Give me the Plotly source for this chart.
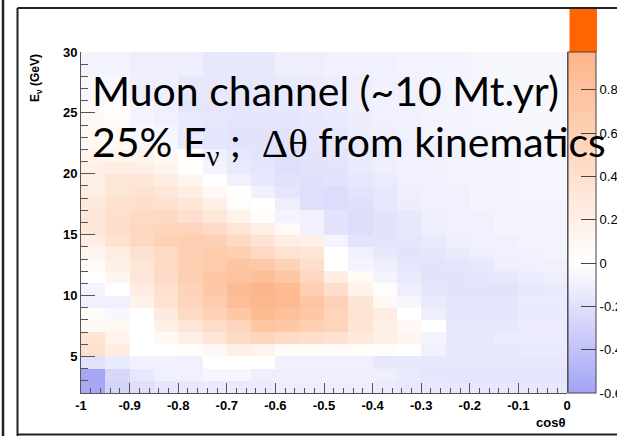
import plotly.graph_objects as go

# Binning: 20 bins in cos(theta) over [-1, 0], 28 bins of 1 GeV in E_nu over [2, 30]
cos_edges = [round(-1 + 0.05 * k, 2) for k in range(21)]
energy_edges = list(range(2, 31))

# Bin contents, one row per energy bin (bottom row = 2-3 GeV), 20 cos(theta) bins each
chi2_diff = [
    [-0.57, -0.28, -0.21, -0.17, -0.15, -0.14, -0.14, -0.13, -0.12, -0.12, -0.12, -0.12, -0.13, -0.15, -0.15, -0.16, -0.16, -0.16, -0.16, -0.16],
    [-0.58, -0.26, -0.15, -0.10, -0.10, -0.06, -0.06, -0.11, -0.11, -0.11, -0.11, -0.11, -0.11, -0.14, -0.17, -0.17, -0.17, -0.17, -0.17, -0.17],
    [-0.19, -0.14, -0.09, -0.09, -0.09, 0.00, 0.00, 0.00, -0.09, -0.09, -0.09, -0.09, -0.15, -0.15, -0.15, -0.15, -0.15, -0.15, -0.15, -0.15],
    [0.40, 0.24, 0.00, 0.00, 0.04, 0.08, 0.20, 0.15, 0.05, 0.05, 0.05, 0.04, 0.03, 0.00, -0.09, -0.15, -0.15, -0.15, -0.14, -0.14],
    [0.36, 0.16, 0.00, 0.08, 0.20, 0.34, 0.47, 0.55, 0.47, 0.43, 0.39, 0.28, 0.20, 0.12, -0.07, -0.15, -0.15, -0.13, -0.13, -0.13],
    [0.08, 0.08, 0.00, 0.20, 0.33, 0.45, 0.55, 0.76, 0.73, 0.63, 0.55, 0.35, 0.20, 0.09, 0.00, -0.15, -0.15, -0.15, -0.13, -0.13],
    [0.05, -0.05, 0.00, 0.27, 0.47, 0.60, 0.73, 0.89, 0.81, 0.73, 0.55, 0.37, 0.23, 0.00, -0.11, -0.17, -0.17, -0.17, -0.14, -0.14],
    [-0.09, -0.10, 0.17, 0.37, 0.55, 0.68, 0.85, 0.93, 0.91, 0.76, 0.60, 0.35, 0.09, -0.05, -0.14, -0.17, -0.17, -0.17, -0.13, -0.13],
    [-0.07, 0.00, 0.23, 0.39, 0.57, 0.71, 0.88, 0.95, 0.88, 0.63, 0.41, 0.17, 0.03, -0.11, -0.17, -0.18, -0.18, -0.18, -0.15, -0.14],
    [0.00, 0.12, 0.31, 0.47, 0.63, 0.72, 0.79, 0.84, 0.73, 0.52, 0.24, 0.07, -0.07, -0.14, -0.18, -0.18, -0.17, -0.15, -0.13, -0.11],
    [0.07, 0.20, 0.33, 0.49, 0.63, 0.68, 0.76, 0.73, 0.60, 0.41, 0.00, -0.07, -0.11, -0.17, -0.18, -0.17, -0.15, -0.11, -0.10, -0.09],
    [0.13, 0.24, 0.39, 0.49, 0.63, 0.68, 0.63, 0.49, 0.36, 0.33, 0.00, -0.09, -0.15, -0.18, -0.17, -0.14, -0.11, -0.10, -0.09, -0.07],
    [0.23, 0.37, 0.51, 0.60, 0.64, 0.61, 0.49, 0.36, 0.23, 0.20, -0.07, -0.18, -0.18, -0.17, -0.14, -0.11, -0.10, -0.09, -0.07, -0.07],
    [0.31, 0.41, 0.52, 0.56, 0.55, 0.47, 0.33, 0.20, 0.07, -0.10, -0.18, -0.22, -0.18, -0.15, -0.11, -0.10, -0.09, -0.07, -0.07, -0.07],
    [0.31, 0.41, 0.47, 0.49, 0.41, 0.31, 0.17, 0.03, -0.07, -0.10, -0.18, -0.22, -0.18, -0.15, -0.11, -0.10, -0.09, -0.07, -0.07, -0.07],
    [0.28, 0.39, 0.41, 0.39, 0.31, 0.20, 0.03, 0.00, -0.11, -0.21, -0.23, -0.20, -0.16, -0.12, -0.10, -0.09, -0.07, -0.07, -0.07, -0.07],
    [0.23, 0.33, 0.36, 0.31, 0.22, 0.09, 0.00, -0.09, -0.17, -0.21, -0.23, -0.18, -0.15, -0.11, -0.10, -0.09, -0.07, -0.07, -0.06, -0.06],
    [0.20, 0.31, 0.31, 0.23, 0.13, 0.00, -0.10, -0.15, -0.19, -0.20, -0.19, -0.16, -0.13, -0.10, -0.09, -0.08, -0.07, -0.07, -0.06, -0.06],
    [0.20, 0.24, 0.20, 0.13, 0.00, -0.07, -0.14, -0.17, -0.21, -0.19, -0.18, -0.14, -0.11, -0.10, -0.09, -0.08, -0.07, -0.07, -0.06, -0.06],
    [0.16, 0.13, 0.13, 0.09, 0.00, -0.09, -0.15, -0.18, -0.20, -0.18, -0.17, -0.14, -0.11, -0.10, -0.09, -0.08, -0.07, -0.06, -0.06, -0.05],
    [0.09, 0.07, -0.05, -0.05, -0.14, -0.17, -0.18, -0.18, -0.19, -0.17, -0.15, -0.13, -0.11, -0.10, -0.09, -0.08, -0.07, -0.06, -0.06, -0.05],
    [0.09, 0.07, -0.05, -0.07, -0.14, -0.17, -0.18, -0.18, -0.18, -0.16, -0.15, -0.12, -0.11, -0.09, -0.08, -0.07, -0.07, -0.06, -0.05, -0.05],
    [0.09, 0.03, -0.07, -0.10, -0.14, -0.15, -0.17, -0.17, -0.17, -0.15, -0.14, -0.12, -0.10, -0.09, -0.08, -0.07, -0.06, -0.06, -0.05, -0.05],
    [0.07, 0.00, -0.07, -0.11, -0.17, -0.17, -0.17, -0.16, -0.15, -0.14, -0.13, -0.11, -0.10, -0.09, -0.08, -0.07, -0.06, -0.05, -0.05, -0.05],
    [-0.05, -0.05, -0.11, -0.11, -0.15, -0.15, -0.15, -0.15, -0.14, -0.13, -0.12, -0.11, -0.10, -0.09, -0.08, -0.07, -0.06, -0.05, -0.05, -0.05],
    [-0.05, -0.05, -0.11, -0.11, -0.15, -0.15, -0.15, -0.15, -0.14, -0.13, -0.12, -0.11, -0.10, -0.09, -0.08, -0.07, -0.06, -0.05, -0.05, -0.05],
    [-0.07, -0.07, -0.11, -0.11, -0.11, -0.15, -0.15, -0.15, -0.11, -0.11, -0.10, -0.10, -0.09, -0.08, -0.07, -0.07, -0.06, -0.05, -0.05, -0.05],
    [-0.07, -0.07, -0.11, -0.11, -0.11, -0.15, -0.15, -0.15, -0.11, -0.11, -0.10, -0.10, -0.09, -0.08, -0.07, -0.07, -0.06, -0.05, -0.05, -0.05],
]

# Axis ticks and labels
cos_ticks = [-1, -0.9, -0.8, -0.7, -0.6, -0.5, -0.4, -0.3, -0.2, -0.1, 0]
cos_labels = ["-1", "-0.9", "-0.8", "-0.7", "-0.6", "-0.5", "-0.4", "-0.3", "-0.2", "-0.1", "0"]
energy_ticks = [5, 10, 15, 20, 25, 30]
energy_labels = ["5", "10", "15", "20", "25", "30"]
z_ticks = [-0.6, -0.4, -0.2, 0, 0.2, 0.4, 0.6, 0.8]
z_labels = ["-0.6", "-0.4", "-0.2", "0", "0.2", "0.4", "0.6", "0.8"]

Z_MIN, Z_MAX = -0.6, 0.975

# Figure geometry (pixels) used to place decorations in paper coordinates
W, H = 617, 436
L, R, T, B = 81, 567, 52, 393


def px_x(p):
    return (p - L) / (R - L)


def px_y(p):
    return (B - p) / (B - T)


cos_centers = [(a + b) / 2 for a, b in zip(cos_edges[:-1], cos_edges[1:])]
energy_centers = [(a + b) / 2 for a, b in zip(energy_edges[:-1], energy_edges[1:])]

zero_pos = (0 - Z_MIN) / (Z_MAX - Z_MIN)
colorscale = [
    [0.0, "rgb(163,163,246)"],
    [zero_pos, "rgb(255,255,255)"],
    [1.0, "rgb(253,180,136)"],
]

axis_color = "#555555"
tick_font = dict(family="Liberation Sans, Arial, sans-serif", size=13, color="black", weight="bold")

fig = go.Figure(
    go.Heatmap(
        x=cos_centers,
        y=energy_centers,
        z=chi2_diff,
        zmin=Z_MIN,
        zmax=Z_MAX,
        colorscale=colorscale,
        zsmooth=False,
        colorbar=dict(
            x=1.0,
            xanchor="left",
            xpad=1,
            y=0.5,
            yanchor="middle",
            ypad=0,
            len=1,
            thickness=28,
            outlinewidth=1,
            outlinecolor="#444444",
            ticks="inside",
            ticklen=15,
            tickcolor="#444444",
            tickvals=z_ticks,
            ticktext=z_labels,
            tickfont=dict(family="Liberation Sans, Arial, sans-serif", size=13, color="black"),
        ),
    )
)

fig.update_xaxes(
    range=[-1, 0],
    showgrid=False,
    zeroline=False,
    showline=True,
    linecolor=axis_color,
    linewidth=1,
    ticks="inside",
    ticklen=10,
    tickcolor=axis_color,
    tickvals=cos_ticks,
    ticktext=cos_labels,
    tickfont=tick_font,
    minor=dict(ticks="inside", ticklen=5, tickcolor=axis_color, dtick=0.02, tick0=-1, showgrid=False),
)
fig.update_yaxes(
    range=[2, 30],
    showgrid=False,
    zeroline=False,
    showline=True,
    linecolor=axis_color,
    linewidth=1,
    ticks="inside",
    ticklen=14,
    tickcolor=axis_color,
    tickvals=energy_ticks,
    ticktext=energy_labels,
    tickfont=tick_font,
    minor=dict(ticks="inside", ticklen=7, tickcolor=axis_color, dtick=1, tick0=0, showgrid=False),
)

frame_color = "#222222"
shapes = [
    # right edge of the frame
    dict(type="line", xref="paper", yref="paper", x0=px_x(R + 0.5), x1=px_x(R + 0.5), y0=0, y1=1,
         line=dict(color="#666666", width=1)),
    # saturated overflow box above the palette
    dict(type="rect", xref="paper", yref="paper", x0=px_x(569.5), x1=px_x(597), y0=px_y(52), y1=px_y(9),
         fillcolor="rgb(255,102,0)", line=dict(width=0), layer="above"),
    # panel borders
    dict(type="line", xref="paper", yref="paper", x0=px_x(17.5), x1=px_x(17.5), y0=px_y(8), y1=px_y(436),
         line=dict(color=frame_color, width=2)),
    dict(type="line", xref="paper", yref="paper", x0=px_x(17.5), x1=px_x(620), y0=px_y(8), y1=px_y(8),
         line=dict(color=frame_color, width=2)),
    dict(type="line", xref="paper", yref="paper", x0=px_x(17.5), x1=px_x(620), y0=px_y(434.5), y1=px_y(434.5),
         line=dict(color=frame_color, width=2)),
    dict(type="line", xref="paper", yref="paper", x0=px_x(3), x1=px_x(3), y0=px_y(-2), y1=px_y(438),
         line=dict(color=frame_color, width=2.5)),
]

big_font = dict(family="Lato, Carlito, Calibri, sans-serif", size=41, color="black")
serif = "font-family:'Liberation Serif', 'Times New Roman', serif"
annotations = [
    dict(text="<b>E<sub>ν</sub> (GeV)</b>", textangle=-90, xref="paper", yref="paper",
         x=px_x(36), y=px_y(78), xanchor="center", yanchor="middle", showarrow=False,
         font=dict(family="Liberation Sans, Arial, sans-serif", size=12, color="black")),
    dict(text="<b>cosθ</b>", xref="paper", yref="paper", x=px_x(567), y=px_y(422),
         xanchor="right", yanchor="middle", showarrow=False,
         font=dict(family="Liberation Sans, Arial, sans-serif", size=13, color="black")),
    dict(text="Muon channel (~10 Mt.yr)", xref="paper", yref="paper", x=px_x(90), y=px_y(90),
         xanchor="left", yanchor="middle", showarrow=False, font=big_font),
    dict(text=f"25% E<sub><span style=\"{serif}\">ν</span></sub> ;  <span style=\"{serif}\">Δθ</span> from kinematics",
         xref="paper", yref="paper", x=px_x(90), y=px_y(144),
         xanchor="left", yanchor="middle", showarrow=False, font=big_font),
]

fig.update_layout(
    width=W,
    height=H,
    margin=dict(l=L, r=W - R, t=T, b=H - B, pad=0, autoexpand=False),
    paper_bgcolor="white",
    plot_bgcolor="white",
    shapes=shapes,
    annotations=annotations,
    showlegend=False,
)

fig.write_html("out.html")
